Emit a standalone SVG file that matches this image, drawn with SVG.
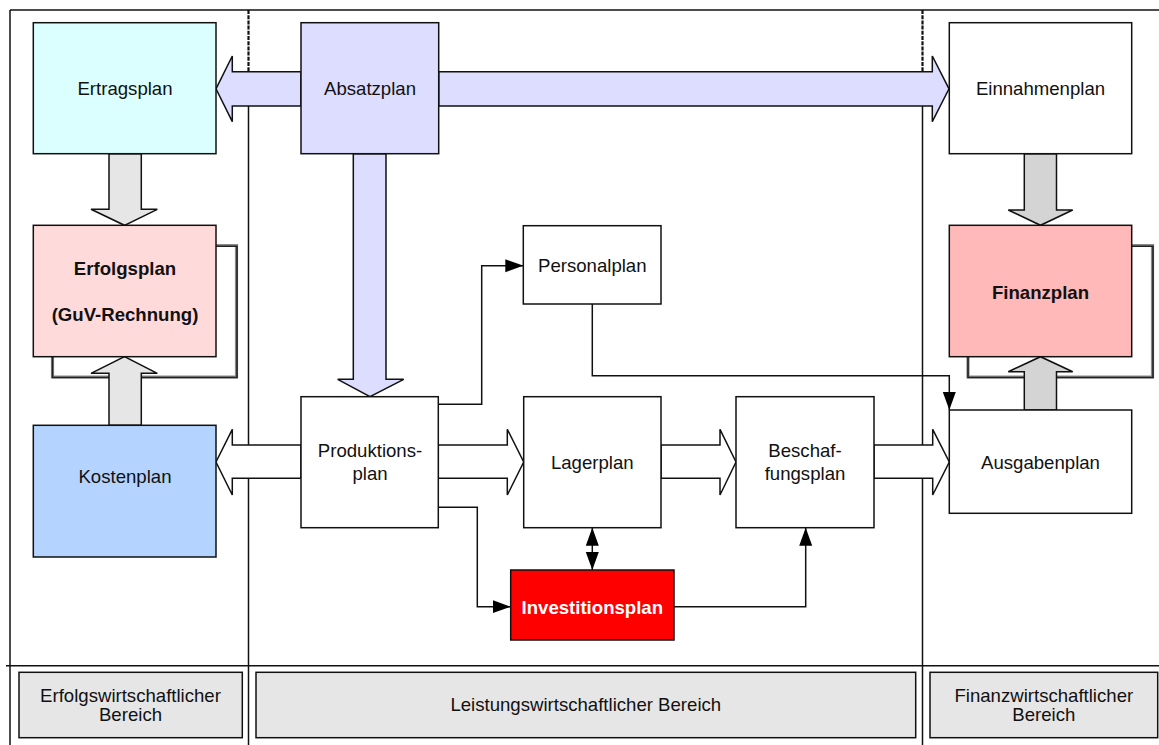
<svg xmlns="http://www.w3.org/2000/svg" width="1159" height="745" viewBox="0 0 1159 745">
  <defs>
    <style>
      .box { stroke: #111; stroke-width: 1.5; }
      .lbl { font-family: "Liberation Sans", Arial, sans-serif; font-size: 18.6px; fill: #111; text-anchor: middle; }
      .b { font-weight: bold; }
      .frame { fill: none; stroke: #111; stroke-width: 1.5; }
      .dash { fill: none; stroke: #111; stroke-width: 2.2; stroke-dasharray: 4,1.2; }
      .wide { stroke: #111; stroke-width: 1.5; stroke-linejoin: miter; }
      .conn { fill: none; stroke: #111; stroke-width: 1.5; }
      .loop-shadow { fill: none; stroke: #8a8a8a; stroke-width: 3.2; }
      .loop { fill: none; stroke: #222; stroke-width: 1.6; }
      .area { fill: #e6e6e6; stroke: #111; stroke-width: 1.5; }
      .white { fill: #fff; }
    </style>
    <marker id="tip" markerUnits="userSpaceOnUse" markerWidth="18" markerHeight="14" refX="18" refY="7" orient="auto-start-reverse">
      <path d="M0,0.5 L18,7 L0,13.5 Z" fill="#000"/>
    </marker>
  </defs>

  <rect width="1159" height="745" fill="#fff"/>

  <!-- frame and section dividers -->
  <g id="frame">
    <line class="frame" x1="10" y1="10" x2="1159" y2="10"/>
    <line class="frame" x1="10" y1="10" x2="10" y2="745"/>
    <line class="frame" x1="6" y1="665.7" x2="1159" y2="665.7"/>
    <line class="dash" x1="248.5" y1="10" x2="248.5" y2="72"/>
    <line class="frame" x1="248.5" y1="72" x2="248.5" y2="745"/>
    <line class="dash" x1="922.5" y1="10" x2="922.5" y2="72"/>
    <line class="frame" x1="922.5" y1="72" x2="922.5" y2="745"/>
  </g>

  <!-- feedback loops behind the result plans -->
  <g id="loops">
    <path class="loop-shadow" d="M216,245.5 H236.5 V377 H52.5 V357"/>
    <path class="loop" d="M216,246.3 H237 V377.5 H52.5 V357"/>
    <path class="loop-shadow" d="M1131.7,245.5 H1152.5 V377 H968 V357"/>
    <path class="loop" d="M1131.7,246.3 H1153 V377.5 H968 V357"/>
  </g>

  <!-- connectors: block arrows and thin lines -->
  <g id="connectors">
    <!-- Absatzplan to Ertragsplan -->
    <path class="wide" fill="#ddddff" d="M301,71.7 H232.3 V56 L216,88.8 L232.3,121.7 V106 H301 Z"/>
    <!-- Absatzplan to Einnahmenplan -->
    <path class="wide" fill="#ddddff" d="M438.7,71.7 H932.3 V56 L949,88.8 L932.3,121.7 V106 H438.7 Z"/>
    <!-- Absatzplan to Produktionsplan -->
    <path class="wide" fill="#ddddff" d="M353.3,153.7 V379.3 H337.7 L370,396.7 L403.7,379.3 H386 V153.7 Z"/>
    <!-- Ertragsplan to Erfolgsplan -->
    <path class="wide" fill="#e6e6e6" d="M109,153.7 V209.3 H91 L124.5,225.3 L157.3,209.3 H141.3 V153.7 Z"/>
    <!-- Kostenplan to Erfolgsplan -->
    <path class="wide" fill="#e6e6e6" d="M109,425.3 V373.3 H91 L124.5,356.7 L157.3,373.3 H141.3 V425.3 Z"/>
    <!-- Einnahmenplan to Finanzplan -->
    <path class="wide" fill="#d4d4d4" d="M1024.3,153.7 V210 H1008.3 L1040.5,225.3 L1072.7,210 H1056.5 V153.7 Z"/>
    <!-- Ausgabenplan to Finanzplan -->
    <path class="wide" fill="#d4d4d4" d="M1024.3,410 V371.7 H1008.3 L1040.5,356.7 L1072.7,371.7 H1056.5 V410 Z"/>
    <!-- Produktionsplan to Kostenplan -->
    <path class="wide" fill="#fff" d="M301,445 H232.3 V429.3 L216,462 L232.3,495 V478.3 H301 Z"/>
    <!-- Produktionsplan to Lagerplan -->
    <path class="wide" fill="#fff" d="M438.3,445 H507.3 V429.3 L523.7,462 L507.3,495 V478.3 H438.3 Z"/>
    <!-- Lagerplan to Beschaffungsplan -->
    <path class="wide" fill="#fff" d="M661,445 H720 V429.3 L736,462 L720,495 V478.3 H661 Z"/>
    <!-- Beschaffungsplan to Ausgabenplan -->
    <path class="wide" fill="#fff" d="M874,445 H932.7 V429.3 L949.3,462 L932.7,495 V478.3 H874 Z"/>

    <!-- thin connectors -->
    <path class="conn" d="M438.3,404.3 H481.7 V265.7 H523.3" marker-end="url(#tip)"/>
    <path class="conn" d="M592.3,304 V375.7 H949.3 V410" marker-end="url(#tip)"/>
    <path class="conn" d="M438.3,507.3 H477.3 V606.7 H510.7" marker-end="url(#tip)"/>
    <path class="conn" d="M674,606.7 H805.7 V527.7" marker-end="url(#tip)"/>
    <path class="conn" d="M592.3,527.7 V570" marker-start="url(#tip)" marker-end="url(#tip)"/>
  </g>

  <!-- plan nodes -->
  <g id="ertragsplan">
    <rect class="box" x="33.3" y="22.7" width="182.7" height="131" fill="#dbfefe"/>
    <text class="lbl" x="125" y="95">Ertragsplan</text>
  </g>
  <g id="absatzplan">
    <rect class="box" x="301" y="22.7" width="137.7" height="131" fill="#ddddff"/>
    <text class="lbl" x="370" y="95">Absatzplan</text>
  </g>
  <g id="einnahmenplan">
    <rect class="box" x="949.3" y="22.7" width="182.4" height="131" fill="#fff"/>
    <text class="lbl" x="1040.5" y="95">Einnahmenplan</text>
  </g>
  <g id="erfolgsplan">
    <rect class="box" x="33.3" y="225.3" width="182.7" height="131.4" fill="#ffdada"/>
    <text class="lbl b" x="125" y="275">Erfolgsplan</text>
    <text class="lbl b" x="125" y="321">(GuV-Rechnung)</text>
  </g>
  <g id="kostenplan">
    <rect class="box" x="33.3" y="425.3" width="182.7" height="131.7" fill="#b4d4ff"/>
    <text class="lbl" x="125" y="483">Kostenplan</text>
  </g>
  <g id="personalplan">
    <rect class="box" x="523.3" y="225.7" width="137.7" height="78.3" fill="#fff"/>
    <text class="lbl" x="592.3" y="272">Personalplan</text>
  </g>
  <g id="produktionsplan">
    <rect class="box" x="301" y="396.7" width="137.3" height="131" fill="#fff"/>
    <text class="lbl" x="370" y="457">Produktions-</text>
    <text class="lbl" x="370" y="479.5">plan</text>
  </g>
  <g id="lagerplan">
    <rect class="box" x="523.7" y="396.7" width="137.3" height="131" fill="#fff"/>
    <text class="lbl" x="592.3" y="469">Lagerplan</text>
  </g>
  <g id="beschaffungsplan">
    <rect class="box" x="736" y="396.7" width="138" height="131" fill="#fff"/>
    <text class="lbl" x="805" y="457">Beschaf-</text>
    <text class="lbl" x="805" y="479.5">fungsplan</text>
  </g>
  <g id="finanzplan">
    <rect class="box" x="949.3" y="225.3" width="182.4" height="131.4" fill="#ffb9b9"/>
    <text class="lbl b" x="1040.5" y="298.5">Finanzplan</text>
  </g>
  <g id="ausgabenplan">
    <rect class="box" x="949.3" y="410" width="182.4" height="103.3" fill="#fff"/>
    <text class="lbl" x="1040.5" y="468.5">Ausgabenplan</text>
  </g>
  <g id="investitionsplan">
    <rect class="box" x="510.7" y="570" width="163.3" height="70" fill="#ff0000"/>
    <text class="lbl b white" x="592.3" y="613.5">Investitionsplan</text>
  </g>

  <!-- area labels -->
  <g id="bereich-erfolg">
    <rect class="area" x="19" y="672.3" width="223.3" height="65.4"/>
    <text class="lbl" x="130.5" y="701.5">Erfolgswirtschaftlicher</text>
    <text class="lbl" x="130.5" y="721">Bereich</text>
  </g>
  <g id="bereich-leistung">
    <rect class="area" x="256" y="672.3" width="659.7" height="65.4"/>
    <text class="lbl" x="585.8" y="711">Leistungswirtschaftlicher Bereich</text>
  </g>
  <g id="bereich-finanz">
    <rect class="area" x="930" y="672.3" width="227.7" height="65.4"/>
    <text class="lbl" x="1043.8" y="701.5">Finanzwirtschaftlicher</text>
    <text class="lbl" x="1043.8" y="721">Bereich</text>
  </g>
</svg>
